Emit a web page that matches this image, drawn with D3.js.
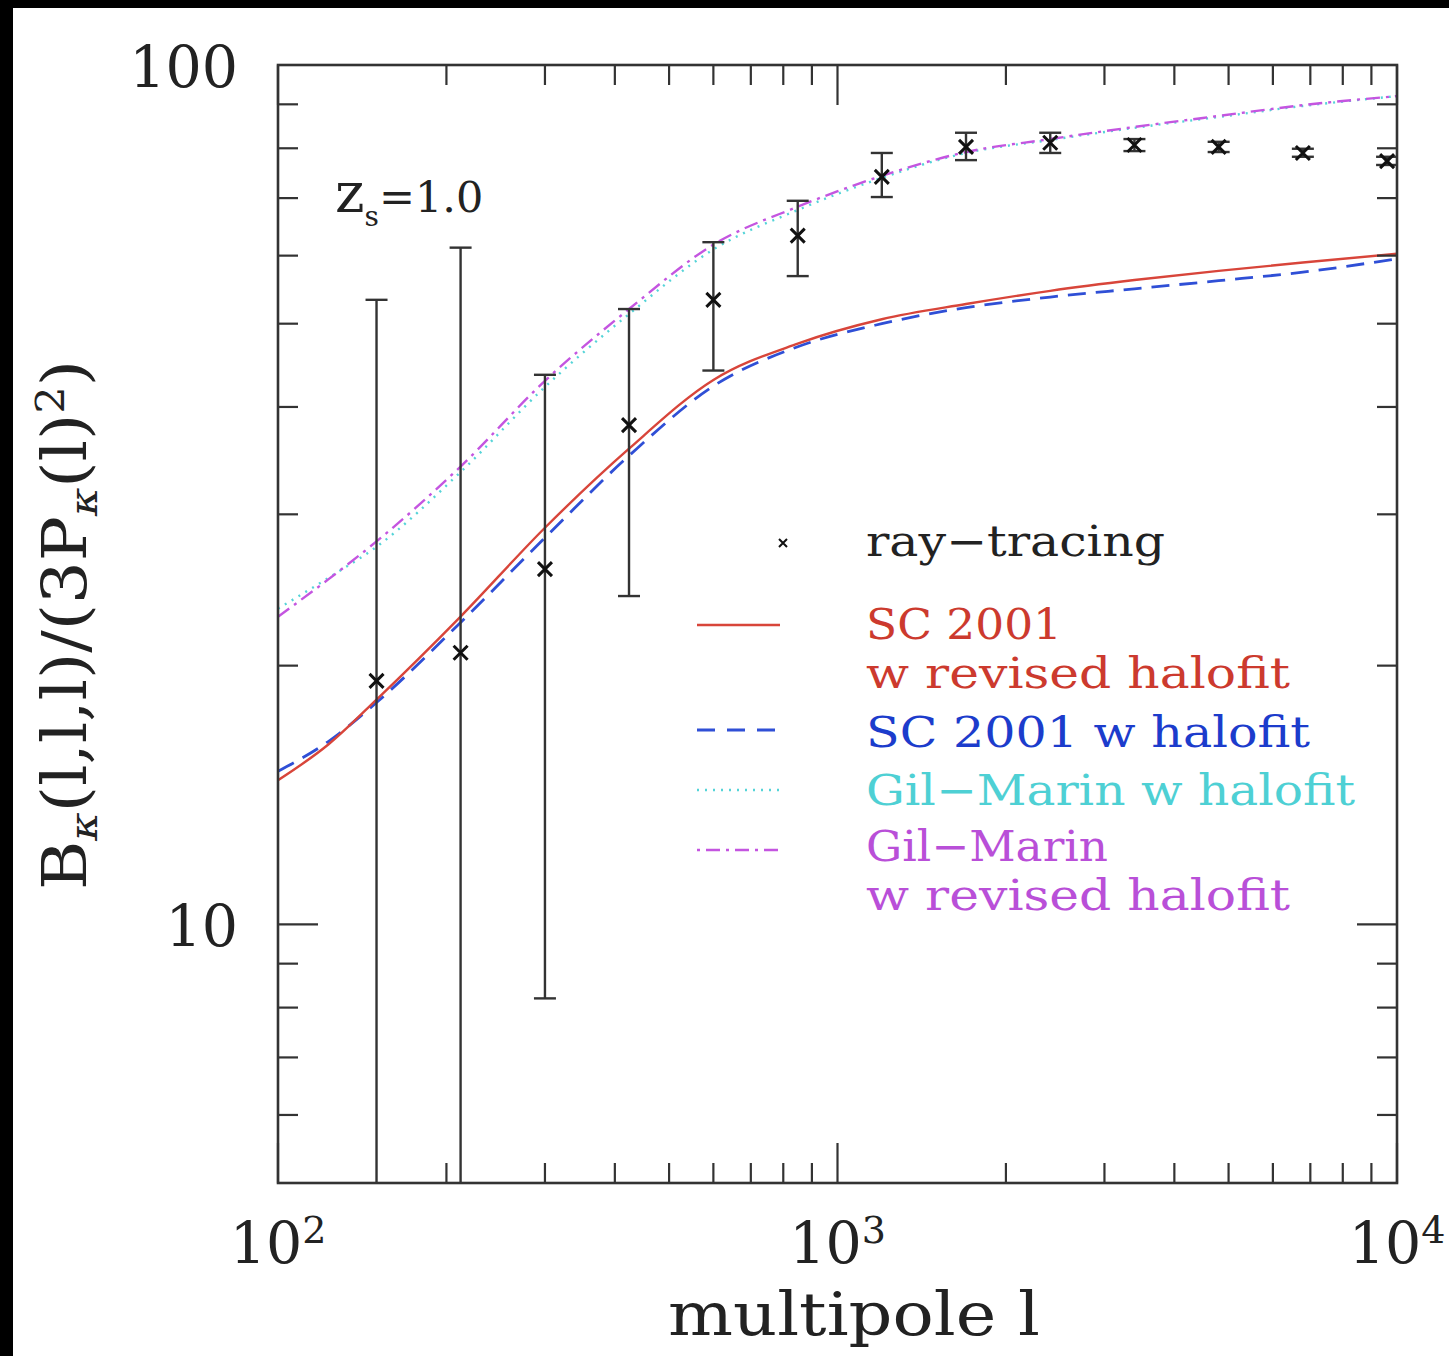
<!DOCTYPE html>
<html><head><meta charset="utf-8">
<script src="https://cdn.jsdelivr.net/npm/d3@7"></script>
<style>body{margin:0;background:#000;} svg{display:block}</style>
</head><body>
<svg id="c" width="1449" height="1356"></svg>
<script>
// ---- data ----
const ell    = [150, 212, 300, 424, 600, 849, 1200, 1697, 2400, 3394, 4800, 6788, 9600];
const ptVal  = [19.2, 20.7, 25.9, 38.1, 53.3, 63.3, 74.1, 80.3, 81.2, 80.7, 80.3, 79.0, 77.3];
const ptHi   = [53.3, 61.3, 43.6, 52.0, 62.2, 69.5, 79.0, 83.4, 83.4, 82.0, 81.4, 79.9, 78.2];
const ptLo   = [4.0, 4.0, 8.2, 24.1, 44.1, 56.8, 70.2, 77.5, 79.0, 79.4, 79.2, 78.2, 76.5];

const curveL   = [100, 123, 150, 212, 300, 424, 600, 849, 1200, 1697, 2400, 3394, 4800, 6788, 10000];
const scRev    = [14.71, 16.19, 18.26, 22.81, 28.94, 35.77, 43.0, 47.4, 50.6, 52.7, 54.6, 56.2, 57.6, 58.9, 60.3];
const scHalo   = [15.07, 16.32, 18.12, 22.45, 28.18, 35.1, 42.3, 47.0, 50.0, 52.2, 53.7, 54.9, 56.1, 57.4, 59.5];
const gmHalo   = [23.3, 25.3, 27.5, 33.6, 42.2, 51.3, 61.0, 67.8, 73.9, 79.0, 81.8, 84.5, 87.0, 89.6, 92.0];
const gmRev    = [22.8, 25.2, 27.9, 34.1, 42.9, 52.0, 61.8, 68.4, 74.3, 79.2, 82.0, 84.7, 87.25, 89.8, 92.0];

const xMajor = [100, 1000, 10000];
const xMinor = [200,300,400,500,600,700,800,900,2000,3000,4000,5000,6000,7000,8000,9000];
const yMajor = [10, 100];
const yMinor = [6,7,8,9,20,30,40,50,60,70,80,90];
const xTickExp = ["2", "3", "4"];
const yTickLabels = ["10", "100"];

// ---- drawing ----
const W = 1449, H = 1356;
const L = 278, R = 1397, T = 65, B = 1183;
const FONT = "DejaVu Serif";
const svg = d3.select('#c');
svg.append('rect').attr('width', W).attr('height', H).attr('fill', '#000');
svg.append('rect').attr('x', 13).attr('y', 8).attr('width', W - 13).attr('height', H - 8).attr('fill', '#fff');

const x = d3.scaleLog().domain([100, 10000]).range([L, R]);
const y = d3.scaleLog().domain([5, 100]).range([B, T]);

svg.append('clipPath').attr('id', 'clip').append('rect')
  .attr('x', L).attr('y', T).attr('width', R - L).attr('height', B - T);

const plot = svg.append('g').attr('clip-path', 'url(#clip)');

// curves
const line = d3.line().x(d => x(d[0])).y(d => y(d[1])).curve(d3.curveMonotoneX);
const series = [
  {v: gmHalo, color: '#55d4d8', dash: '2,6', w: 2.4},
  {v: gmRev,  color: '#c455e0', dash: '14,6,3,6', w: 2.4},
  {v: scHalo, color: '#2f4fd6', dash: '18,10', w: 2.8},
  {v: scRev,  color: '#d8453a', dash: null, w: 2.4},
];
series.forEach(s => {
  plot.append('path').datum(curveL.map((l, i) => [l, s.v[i]]))
    .attr('d', line).attr('fill', 'none').attr('stroke', s.color)
    .attr('stroke-width', s.w).attr('stroke-dasharray', s.dash);
});

// error bars
const eb = plot.append('g').attr('stroke', '#333').attr('stroke-width', 2.4).attr('fill', 'none');
ell.forEach((l, i) => {
  const cx = x(l);
  eb.append('line').attr('x1', cx).attr('x2', cx).attr('y1', y(ptLo[i])).attr('y2', y(ptHi[i]));
  eb.append('line').attr('x1', cx - 11).attr('x2', cx + 11).attr('y1', y(ptHi[i])).attr('y2', y(ptHi[i]));
  eb.append('line').attr('x1', cx - 11).attr('x2', cx + 11).attr('y1', y(ptLo[i])).attr('y2', y(ptLo[i]));
});
// markers
const mk = plot.append('g').attr('stroke', '#111').attr('stroke-width', 3).attr('fill', 'none');
ell.forEach((l, i) => {
  const cx = x(l), cy = y(ptVal[i]), s = 7;
  mk.append('path').attr('d', `M${cx-s},${cy-s}L${cx+s},${cy+s}M${cx-s},${cy+s}L${cx+s},${cy-s}`);
});

// frame
svg.append('rect').attr('x', L).attr('y', T).attr('width', R - L).attr('height', B - T)
  .attr('fill', 'none').attr('stroke', '#333').attr('stroke-width', 2.6);

// ticks
const tk = svg.append('g').attr('stroke', '#333').attr('stroke-width', 2.2);
function xt(v, len) {
  tk.append('line').attr('x1', x(v)).attr('x2', x(v)).attr('y1', B).attr('y2', B - len);
  tk.append('line').attr('x1', x(v)).attr('x2', x(v)).attr('y1', T).attr('y2', T + len);
}
function yt(v, len) {
  tk.append('line').attr('y1', y(v)).attr('y2', y(v)).attr('x1', L).attr('x2', L + len);
  tk.append('line').attr('y1', y(v)).attr('y2', y(v)).attr('x1', R).attr('x2', R - len);
}
xMinor.forEach(v => xt(v, 20));
xMajor.forEach(v => xt(v, 40));
yMinor.forEach(v => yt(v, 20));
yMajor.forEach(v => yt(v, 40));

// tick labels
xMajor.forEach((v, i) => {
  const t = svg.append('text').attr('x', x(v)).attr('y', 1263)
    .attr('text-anchor', 'middle').attr('font-family', FONT).attr('font-size', 57).attr('fill', '#222');
  t.append('tspan').text('10');
  t.append('tspan').attr('font-size', 38).attr('dy', -20).text(xTickExp[i]);
});
yMajor.forEach((v, i) => {
  svg.append('text').attr('x', 238).attr('y', y(v) + 22)
    .attr('text-anchor', 'end').attr('font-family', FONT).attr('font-size', 57).attr('fill', '#222')
    .text(yTickLabels[i]);
});

// axis titles
svg.append('text').attr('x', 854).attr('y', 1335).attr('text-anchor', 'middle')
  .attr('font-family', FONT).attr('font-size', 60).attr('fill', '#222')
  .attr('textLength', 372).attr('lengthAdjust', 'spacingAndGlyphs')
  .text('multipole l');

const yl = svg.append('text').attr('transform', 'translate(86,625) rotate(-90)')
  .attr('text-anchor', 'middle').attr('font-family', FONT).attr('font-size', 62).attr('fill', '#222')
  .attr('textLength', 530).attr('lengthAdjust', 'spacingAndGlyphs');
yl.append('tspan').text('B');
yl.append('tspan').attr('font-size', 40).attr('font-style', 'italic').attr('dy', 11).text('κ');
yl.append('tspan').attr('dy', -11).text('(l,l,l)/(3P');
yl.append('tspan').attr('font-size', 40).attr('font-style', 'italic').attr('dy', 11).text('κ');
yl.append('tspan').attr('dy', -11).text('(l)');
yl.append('tspan').attr('font-size', 40).attr('dy', -22).text('2');
yl.append('tspan').attr('dy', 22).text(')');

// z_s label
const zs = svg.append('text').attr('x', 335).attr('y', 212)
  .attr('font-family', FONT).attr('font-size', 43).attr('fill', '#222');
zs.append('tspan').attr('font-size', 56).text('z');
zs.append('tspan').attr('font-size', 28).attr('dy', 14).text('s');
zs.append('tspan').attr('dy', -14).text('=1.0');

// legend
const lg = svg.append('g');
const lx1 = 697, lx2 = 780, tx = 866;
lg.append('path').attr('d', `M${783-4},${543-4}L${783+4},${543+4}M${783-4},${543+4}L${783+4},${543-4}`)
  .attr('stroke', '#111').attr('stroke-width', 2);
function ltext(lines, yy, color) {
  const t = lg.append('text').attr('font-family', FONT).attr('font-size', 42).attr('fill', color);
  lines.forEach((ln, k) => {
    t.append('tspan').attr('x', tx).attr('y', yy + k * 49)
      .attr('textLength', ln[1]).attr('lengthAdjust', 'spacingAndGlyphs').text(ln[0]);
  });
}
ltext([['ray−tracing', 299]], 556, '#222');
lg.append('line').attr('x1', lx1).attr('x2', lx2).attr('y1', 625).attr('y2', 625)
  .attr('stroke', '#d8453a').attr('stroke-width', 2.4);
ltext([['SC 2001', 196], ['w revised halofit', 424]], 639, '#cc3a2e');
lg.append('line').attr('x1', lx1).attr('x2', lx2).attr('y1', 730).attr('y2', 730)
  .attr('stroke', '#2f4fd6').attr('stroke-width', 2.8).attr('stroke-dasharray', '18,12');
ltext([['SC 2001 w halofit', 444]], 747, '#1c3ccc');
lg.append('line').attr('x1', lx1).attr('x2', lx2).attr('y1', 790).attr('y2', 790)
  .attr('stroke', '#55d4d8').attr('stroke-width', 2.4).attr('stroke-dasharray', '2,6');
ltext([['Gil−Marin w halofit', 489]], 805, '#4ed0d4');
lg.append('line').attr('x1', lx1).attr('x2', lx2).attr('y1', 850).attr('y2', 850)
  .attr('stroke', '#c455e0').attr('stroke-width', 2.4).attr('stroke-dasharray', '3,6,14,6');
ltext([['Gil−Marin', 242], ['w revised halofit', 424]], 861, '#b94fd8');
</script>
</body></html>
